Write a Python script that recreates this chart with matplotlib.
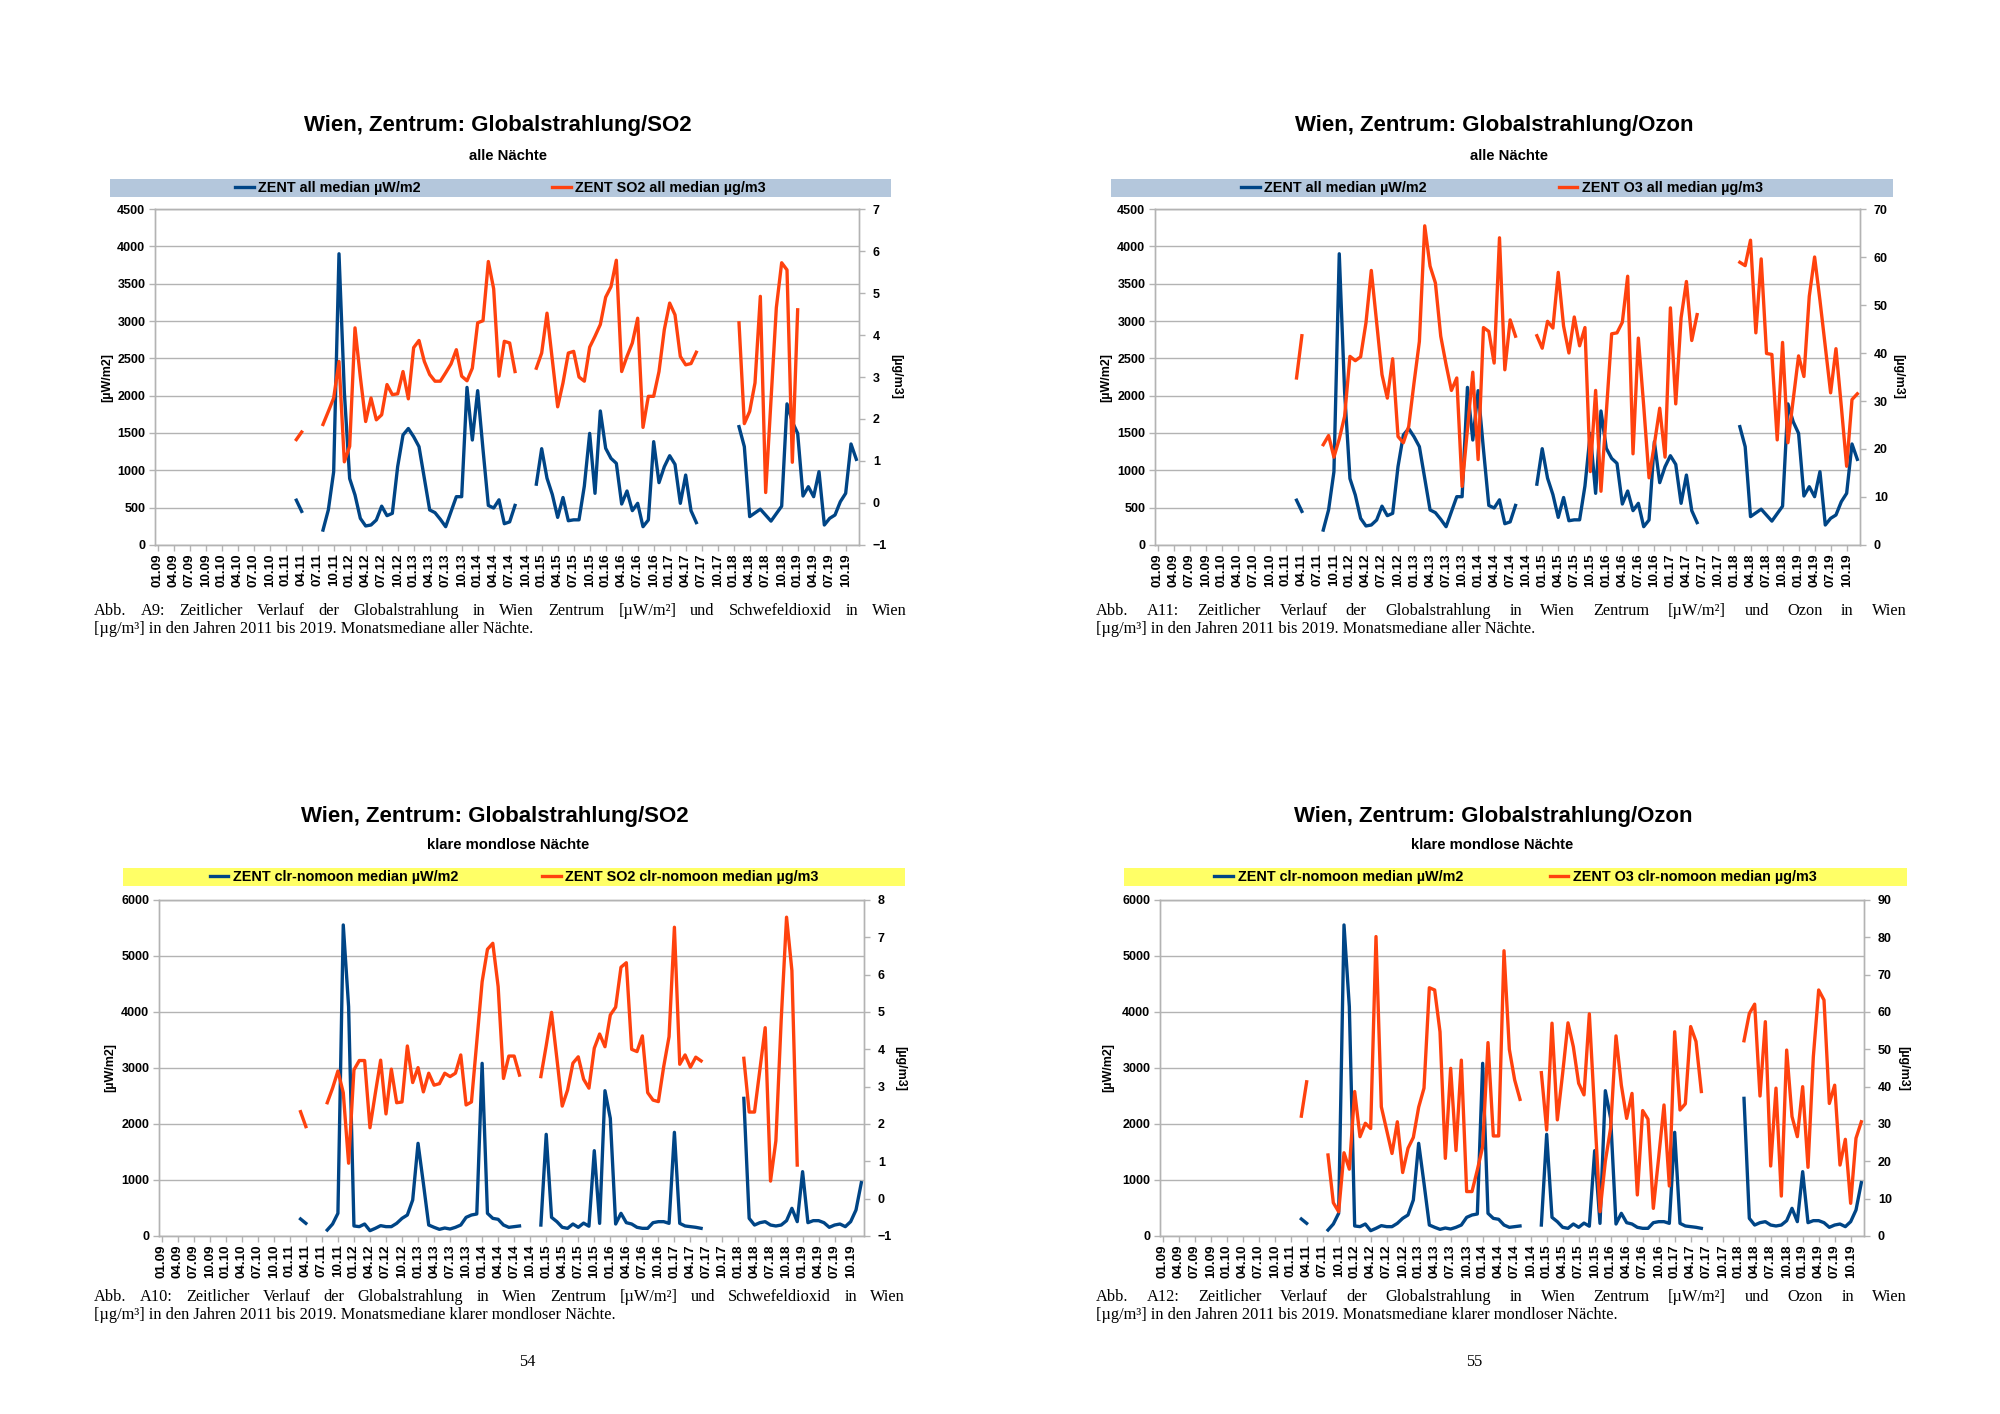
import numpy as np
import matplotlib
matplotlib.use('Agg')
import matplotlib.pyplot as plt
from matplotlib.patches import Rectangle

nan = np.nan

# monthly categories 01.09 .. 12.19, every third one is labelled
months = ['%02d.%02d' % (m, y) for y in range(9, 20) for m in range(1, 13)]

# Globalstrahlung, median all nights [µW/m2]
rad_all = ([nan] * 26 + [600, 450] + [nan] * 3 +
           [200, 470, 980, 3900, 2050, 890, 670, 357, 255, 268, 335, 520, 393, 424, 1050,
            1473, 1560, 1450, 1317, 893, 470, 433, 344, 245, 446, 647, 647, 2111, 1406, 2067,
            1280, 530, 495, 605, 285, 310, 530] + [nan] * 3 +
           [815, 1290, 895, 675, 370, 636, 325, 337, 337, 790, 1495, 692, 1795, 1295, 1160,
            1094, 549, 723, 460, 558, 245, 335, 1384, 835, 1049, 1196, 1080, 558, 937, 460,
            300] + [nan] * 7 +
           [1585, 1317, 380, 430, 480, 400, 320, 420, 520, 1890, 1650, 1495, 656, 781, 647,
            982, 268, 357, 402, 580, 692, 1353, 1147])

# SO2, median all nights [µg/m3]
so2_all = ([nan] * 26 + [1.51, 1.69] + [nan] * 3 +
           [1.87, 2.18, 2.5, 3.37, 0.98, 1.35, 4.17, 3.0, 1.94, 2.5, 1.98, 2.1, 2.82, 2.58,
            2.6, 3.13, 2.48, 3.7, 3.87, 3.37, 3.06, 2.9, 2.9, 3.1, 3.31, 3.65, 3.02, 2.91,
            3.21, 4.29, 4.34, 5.75, 5.1, 3.02, 3.85, 3.81, 3.13] + [nan] * 3 +
           [3.21, 3.57, 4.52, 3.4, 2.29, 2.86, 3.57, 3.61, 3.0, 2.9, 3.71, 3.97, 4.25, 4.9,
            5.15, 5.78, 3.13, 3.49, 3.81, 4.4, 1.8, 2.54, 2.54, 3.13, 4.13, 4.76, 4.48, 3.49,
            3.29, 3.32, 3.59] + [nan] * 7 +
           [4.29, 1.89, 2.18, 2.86, 4.92, 0.25, 2.45, 4.65, 5.72, 5.55, 0.97, 4.6] + [nan] * 11)

# O3, median all nights [µg/m3]
o3_all = ([nan] * 26 + [34.8, 43.6] + [nan] * 3 +
          [20.9, 22.8, 18.3, 22.1, 26.8, 39.3, 38.4, 39.2, 46.3, 57.2, 46.3, 35.5, 30.6, 38.8,
           22.6, 21.3, 24.7, 33.8, 42.4, 66.5, 58.1, 54.6, 43.5, 37.6, 32.2, 34.8, 12.2, 24.0,
           36.0, 17.8, 45.3, 44.5, 37.9, 64.0, 36.5, 46.9, 43.5] + [nan] * 3 +
          [43.6, 41.0, 46.6, 45.2, 56.8, 45.6, 40.0, 47.5, 41.5, 45.3, 15.3, 32.2, 11.2, 27.5,
           44.0, 44.2, 46.4, 56.0, 19.0, 43.1, 29.0, 14.0, 21.0, 28.5, 18.3, 49.4, 29.4, 47.3,
           54.9, 42.6, 48.0] + [nan] * 7 +
          [58.9, 58.2, 63.5, 44.2, 59.6, 39.9, 39.7, 21.9, 42.2, 21.3, 30.3, 39.4, 35.1, 51.8,
           60.0, 51.0, 41.4, 31.7, 40.9, 28.9, 16.4, 30.3, 31.5])

# Globalstrahlung, median clear moonless nights [µW/m2]
rad_clr = ([nan] * 26 + [304, 226] + [nan] * 3 +
           [107, 214, 405, 5554, 4095, 179, 167, 214, 95, 137, 185, 167, 167, 226, 315, 375,
            643, 1655, 940, 196, 155, 119, 143, 125, 155, 196, 333, 375, 393, 3083, 405, 315,
            298, 196, 155, 167, 179] + [nan] * 3 +
           [196, 1815, 333, 256, 155, 137, 214, 155, 230, 175, 1524, 226, 2595, 2101, 214, 405,
            238, 214, 155, 137, 137, 238, 256, 256, 226, 1851, 226, 179, 167, 155, 137] +
           [nan] * 7 +
           [2458, 315, 196, 238, 256, 196, 179, 196, 274, 494, 256, 1149, 238, 274, 274, 238,
            155, 196, 214, 167, 256, 464, 952])

# SO2, median clear moonless nights [µg/m3]
so2_clr = ([nan] * 26 + [2.33, 1.93] + [nan] * 3 +
           [2.57, 2.96, 3.42, 2.84, 0.95, 3.45, 3.7, 3.7, 1.9, 2.82, 3.71, 2.27, 3.47, 2.57,
            2.59, 4.09, 3.11, 3.51, 2.86, 3.36, 3.04, 3.08, 3.36, 3.27, 3.36, 3.85, 2.51, 2.59,
            4.2, 5.81, 6.68, 6.84, 5.68, 3.22, 3.82, 3.82, 3.31] + [nan] * 3 +
           [3.27, 4.1, 4.99, 3.75, 2.48, 2.91, 3.63, 3.8, 3.2, 2.96, 4.03, 4.41, 4.07, 4.92,
            5.13, 6.2, 6.32, 4.0, 3.94, 4.36, 2.84, 2.64, 2.6, 3.54, 4.34, 7.27, 3.6, 3.85,
            3.52, 3.79, 3.69] + [nan] * 7 +
           [3.76, 2.32, 2.32, 3.45, 4.58, 0.47, 1.55, 4.8, 7.54, 6.11, 0.9] + [nan] * 12)

# O3, median clear moonless nights [µg/m3]
o3_clr = ([nan] * 26 + [32.1, 41.3] + [nan] * 3 +
          [21.7, 8.9, 6.5, 22.3, 17.9, 38.7, 26.6, 30.2, 28.8, 80.2, 34.6, 28.4, 22.1, 30.6,
           17.0, 23.5, 26.4, 34.5, 39.6, 66.5, 65.9, 54.7, 20.8, 44.9, 22.9, 47.1, 11.9, 11.9,
           17.7, 23.9, 51.8, 26.8, 26.8, 76.4, 50.0, 41.8, 36.6] + [nan] * 3 +
          [43.75, 28.4, 57.0, 31.1, 43.6, 57.1, 50.7, 40.9, 37.8, 59.5, 33.0, 6.5, 20.0, 29.0,
           53.6, 40.4, 31.5, 38.2, 11.0, 33.6, 31.3, 7.4, 21.0, 35.1, 13.4, 54.7, 33.75, 35.4,
           56.1, 52.1, 38.7] + [nan] * 7 +
          [52.3, 59.6, 62.1, 37.5, 57.4, 18.75, 39.6, 10.7, 49.8, 32.0, 26.6, 40.0, 18.4, 48.0,
           65.9, 63.2, 35.5, 40.4, 19.0, 25.9, 8.75, 26.2, 30.6])

W, H = 2000, 1414
BLUE = '#004586'
ORANGE = '#ff420e'
GRID = '#b3b3b3'
SANS = ['Liberation Sans', 'DejaVu Sans']
SERIF = ['Liberation Serif', 'DejaVu Serif']
CAP = 11.8

fig = plt.figure(figsize=(W / 100, H / 100), dpi=100)
fig.patch.set_facecolor('white')


def fx(px):
    return px / W


def fy(py):
    return 1 - py / H


def justified(words, x0, x1, y, size=CAP):
    r = fig.canvas.get_renderer()
    ts = [fig.text(0, fy(y), w, fontsize=size, family=SERIF, va='baseline') for w in words]
    ws = [t.get_window_extent(r).width for t in ts]
    gap = (x1 - x0 - sum(ws)) / (len(words) - 1)
    x = x0
    for t, w in zip(ts, ws):
        t.set_x(fx(x))
        x += w + gap


def panel(box, rad, pol, lmax, lstep, rlim, rstep, names, title, sub, title_xy, sub_xy,
          band, band_color, colspace, ylab_x, caption, cap_x, cap_y):
    x0, y0, x1, y1 = box
    ax = fig.add_axes([fx(x0), fy(y1), (x1 - x0) / W, (y1 - y0) / H])
    ax2 = ax.twinx()
    idx = np.arange(len(months))
    l1, = ax.plot(idx, np.array(rad, float), color=BLUE, lw=2.4)
    l2, = ax2.plot(idx, np.array(pol, float), color=ORANGE, lw=2.4)

    ax.set_xlim(-0.5, len(months) - 0.5)
    ax.set_ylim(0, lmax)
    ax.set_yticks(np.arange(0, lmax + 1, lstep))
    ax2.set_ylim(*rlim)
    ax2.set_yticks(np.arange(rlim[0], rlim[1] + 0.01, rstep))
    ax.set_xticks(idx[::3])
    ax.set_xticklabels(months[::3], rotation=90)
    ax.yaxis.grid(True, color=GRID, lw=1.0)
    ax.set_axisbelow(True)
    for a in (ax, ax2):
        for s in a.spines.values():
            s.set_color(GRID)
            s.set_linewidth(1.0)
        a.tick_params(colors=GRID, length=4, width=1.0, labelcolor='black', labelsize=9)
        for lab in a.get_xticklabels() + a.get_yticklabels():
            lab.set_fontweight('bold')
            lab.set_family(SANS)
    ax.tick_params(axis='x', pad=2, labelsize=9.6)
    ax.tick_params(axis='y', pad=3)
    ax2.tick_params(axis='y', pad=6)

    cy = (y0 + y1) / 2
    fig.text(fx(ylab_x[0]), fy(cy), '[µW/m2]', rotation=90, ha='center', va='center',
             fontsize=9, fontweight='bold', family=SANS)
    fig.text(fx(ylab_x[1]), fy(cy), '[µg/m3]', rotation=270, ha='center', va='center',
             fontsize=9, fontweight='bold', family=SANS)

    fig.text(fx(title_xy[0]), fy(title_xy[1]), title, ha='center', va='center',
             fontsize=16, fontweight='bold', family=SANS)
    fig.text(fx(sub_xy[0]), fy(sub_xy[1]), sub, ha='center', va='center',
             fontsize=10.7, fontweight='bold', family=SANS)

    bx0, by0, bx1, by1 = band
    fig.add_artist(Rectangle((fx(bx0), fy(by1)), (bx1 - bx0) / W, (by1 - by0) / H,
                             transform=fig.transFigure, facecolor=band_color,
                             edgecolor='none', zorder=0))
    fig.legend([l1, l2], names, loc='center',
               bbox_to_anchor=(fx((bx0 + bx1) / 2), fy((by0 + by1) / 2)), ncol=2,
               frameon=False, prop={'family': SANS, 'weight': 'bold', 'size': 10.4},
               handlelength=1.3, handletextpad=0.3, columnspacing=colspace,
               borderpad=0, borderaxespad=0)

    justified(caption[0].split(), cap_x[0], cap_x[1], cap_y)
    fig.text(fx(cap_x[0]), fy(cap_y + 18), caption[1], fontsize=CAP, family=SERIF,
             va='baseline')
    return ax


panel((155, 209, 859, 545), rad_all, so2_all, 4500, 500, (-1, 7), 1,
      ['ZENT all median µW/m2', 'ZENT SO2 all median µg/m3'],
      'Wien, Zentrum: Globalstrahlung/SO2', 'alle Nächte', (498, 126), (508, 156),
      (110, 179, 891, 197), '#b4c7dc', 9.1, (107, 896),
      ['Abb. A9: Zeitlicher Verlauf der Globalstrahlung in Wien Zentrum [µW/m²] und '
       'Schwefeldioxid in Wien',
       '[µg/m³] in den Jahren 2011 bis 2019. Monatsmediane aller Nächte.'],
      (94, 907), 615)

panel((1155, 209, 1860, 545), rad_all, o3_all, 4500, 500, (0, 70), 10,
      ['ZENT all median µW/m2', 'ZENT O3 all median µg/m3'],
      'Wien, Zentrum: Globalstrahlung/Ozon', 'alle Nächte', (1494, 126), (1509, 156),
      (1111, 179, 1893, 197), '#b4c7dc', 9.1, (1106, 1898),
      ['Abb. A11: Zeitlicher Verlauf der Globalstrahlung in Wien Zentrum [µW/m²] und '
       'Ozon in Wien',
       '[µg/m³] in den Jahren 2011 bis 2019. Monatsmediane aller Nächte.'],
      (1096, 1907), 615)

panel((159, 900, 864, 1236), rad_clr, so2_clr, 6000, 1000, (-1, 8), 1,
      ['ZENT clr-nomoon median µW/m2', 'ZENT SO2 clr-nomoon median µg/m3'],
      'Wien, Zentrum: Globalstrahlung/SO2', 'klare mondlose Nächte', (495, 816), (508, 845),
      (123, 868, 905, 886), '#ffff66', 5.8, (110, 900),
      ['Abb. A10: Zeitlicher Verlauf der Globalstrahlung in Wien Zentrum [µW/m²] und '
       'Schwefeldioxid in Wien',
       '[µg/m³] in den Jahren 2011 bis 2019. Monatsmediane klarer mondloser Nächte.'],
      (94, 905), 1301)

panel((1160, 900, 1864, 1236), rad_clr, o3_clr, 6000, 1000, (0, 90), 10,
      ['ZENT clr-nomoon median µW/m2', 'ZENT O3 clr-nomoon median µg/m3'],
      'Wien, Zentrum: Globalstrahlung/Ozon', 'klare mondlose Nächte', (1493, 816), (1492, 845),
      (1124, 868, 1907, 886), '#ffff66', 6.0, (1108, 1903),
      ['Abb. A12: Zeitlicher Verlauf der Globalstrahlung in Wien Zentrum [µW/m²] und '
       'Ozon in Wien',
       '[µg/m³] in den Jahren 2011 bis 2019. Monatsmediane klarer mondloser Nächte.'],
      (1096, 1907), 1301)

# page numbers
fig.text(fx(527), fy(1362), '54', ha='center', va='center', fontsize=CAP, family=SERIF)
fig.text(fx(1474), fy(1362), '55', ha='center', va='center', fontsize=CAP, family=SERIF)

fig.savefig('out.png', dpi=100, facecolor='white')
